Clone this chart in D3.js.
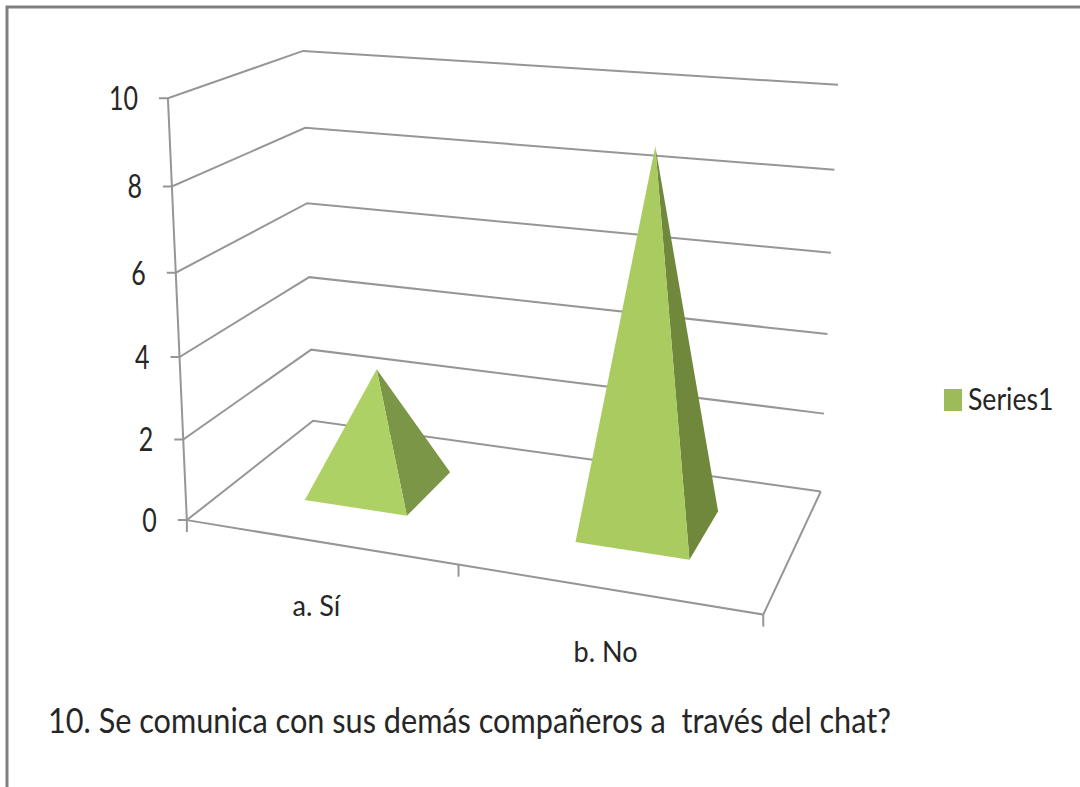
<!DOCTYPE html>
<html><head><meta charset="utf-8">
<script src="https://cdn.jsdelivr.net/npm/d3@7"></script>
<style>html,body{margin:0;padding:0;background:#fff;overflow:hidden}svg{display:block}text{font-family:Lato,"Open Sans",sans-serif;fill:#262626}</style>
</head><body><svg id="c" width="1080" height="787"></svg>
<script>
(function(){
const categories = ["a. Sí", "b. No"];
const seriesName = "Series1";
const values = [3, 9];
const yTicks = [0, 2, 4, 6, 8, 10];
const title = "10. Se comunica con sus demás compañeros a  través del chat?";

// Camera calibration: model corner [u, depth, value] -> screen position of the box corners
const corners = [
  [[0,0,0],[187,520]], [[1,0,0],[763,615]], [[0,1,0],[313,421]], [[1,1,0],[821,491]],
  [[0,0,1],[168,98]],  [[0,1,1],[303,51]],  [[1,1,1],[838,85]]
];
function fitCamera(pts){
  const A=[],b=[];
  pts.forEach(([[X,Y,Z],[x,y]])=>{
    A.push([X,Y,Z,1,0,0,0,0,-x*X,-x*Y,-x*Z]);b.push(x);
    A.push([0,0,0,0,X,Y,Z,1,-y*X,-y*Y,-y*Z]);b.push(y);
  });
  const n=11,M=d3.range(n).map(i=>d3.range(n+1).map(j=>
    j<n?d3.sum(A,r=>r[i]*r[j]):d3.sum(A,(r,k)=>r[i]*b[k])));
  for(let i=0;i<n;i++){
    let p=i;for(let r=i+1;r<n;r++)if(Math.abs(M[r][i])>Math.abs(M[p][i]))p=r;
    [M[i],M[p]]=[M[p],M[i]];
    for(let r=0;r<n;r++){if(r===i)continue;const f=M[r][i]/M[i][i];for(let c=i;c<=n;c++)M[r][c]-=f*M[i][c];}
  }
  return M.map((r,i)=>r[n]/r[i]);
}
const h=fitCamera(corners);
const project=(u,v,w)=>{const d=h[8]*u+h[9]*v+h[10]*w+1;
  return [(h[0]*u+h[1]*v+h[2]*w+h[3])/d,(h[4]*u+h[5]*v+h[6]*w+h[7])/d];};

const yScale=d3.scaleLinear().domain([0,10]).range([0,1]);
const xBand=d3.scaleBand().domain(categories).range([0,1]).paddingInner(0.61).paddingOuter(0.305);
const depth=d3.scaleLinear().domain([0,1]).range([0.295,0.705]);

const svg=d3.select("#c");
const line=d3.line();
const grey="#969696";

// frame
svg.append("path").attr("d","M7,787V7H1080").attr("fill","none").attr("stroke","#808080").attr("stroke-width",3);

const grid=svg.append("g").attr("fill","none").attr("stroke",grey).attr("stroke-width",2);
// wall gridlines + value ticks
yTicks.forEach(t=>{
  const w=yScale(t),a=project(0,0,w),b=project(0,1,w),c=project(1,1,w);
  grid.append("path").attr("d",line([[a[0]-9,a[1]],a,b,c]));
  svg.append("text").attr("text-anchor","end")
    .attr("transform",`translate(${a[0]-30},${a[1]+12}) scale(1,1.3)`)
    .attr("font-size",25).text(t);
});
// axis and floor
const fl=project(0,0,0),fr=project(1,0,0),br=project(1,1,0),axisTop=project(0,0,1);
grid.append("path").attr("d",line([axisTop,fl]));
grid.append("path").attr("d",line([fl,fr,br]));
// category ticks
[0,0.5,1].forEach(u=>{const p=project(u,0,0);
  grid.append("path").attr("d",line([p,[p[0],p[1]+12]]));});

// pyramids
categories.forEach((cat,i)=>{
  const u0=xBand(cat),u1=u0+xBand.bandwidth(),v0=depth(0),v1=depth(1),w=yScale(values[i]);
  const apex=project((u0+u1)/2,(v0+v1)/2,w);
  const a=project(u0,v0,0),b=project(u1,v0,0),c=project(u1,v1,0);
  const g=svg.append("g");
  g.append("path").attr("d",line([b,c,apex])+"Z").attr("fill",i?"#6f883c":"#7b9646");
  g.append("path").attr("d",line([a,b,apex])+"Z").attr("fill",i?"#a9cb60":"#aed166");
  const m=project((u0+u1)/2,-0.17,0);
  svg.append("text").attr("text-anchor","middle")
    .attr("transform",`translate(${m[0]+(i?15:20)},${m[1]+(i?49:53)}) scale(1.23,1.3)`)
    .attr("font-size",22).text(cat);
});

// legend
svg.append("rect").attr("x",944).attr("y",389).attr("width",18).attr("height",22).attr("fill","#9dbb58");
svg.append("text").attr("transform","translate(968,410) scale(1.11,1.25)").attr("font-size",24).text(seriesName);
// title
svg.append("text").attr("transform","translate(48,733) scale(1.18,1.3)").attr("font-size",26).style("white-space","pre").text(title);
})();
</script></body></html>
